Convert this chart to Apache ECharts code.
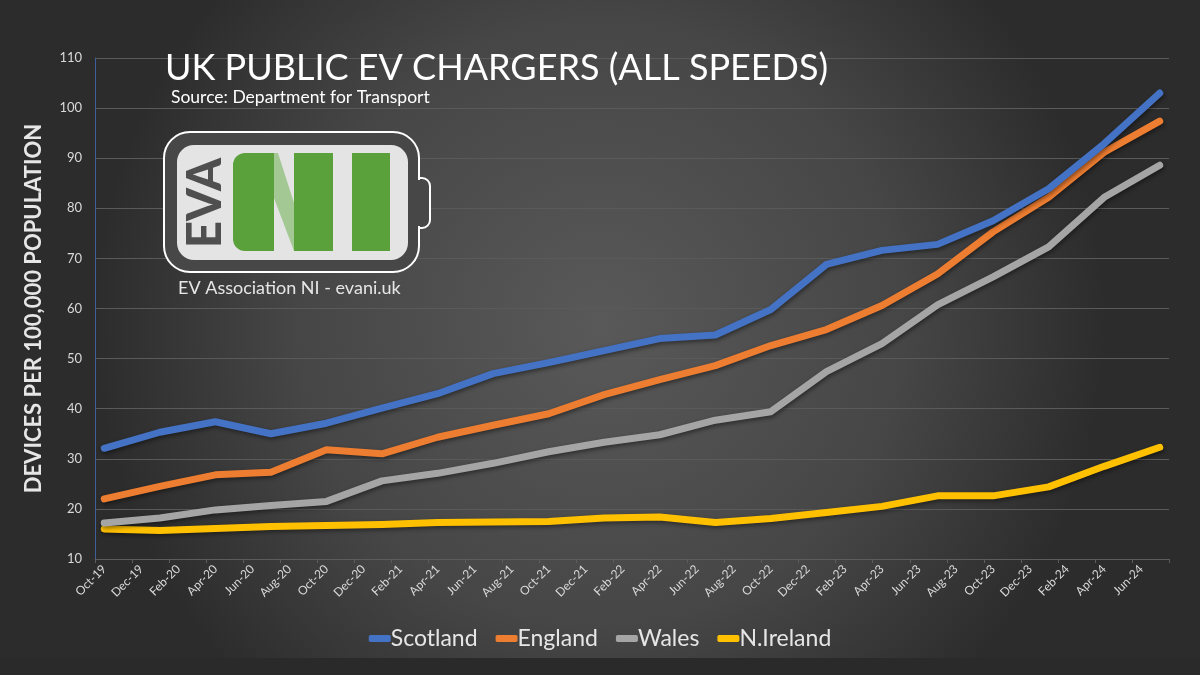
<!DOCTYPE html>
<html>
<head>
<meta charset="utf-8">
<script src="https://cdn.jsdelivr.net/npm/echarts@6/dist/echarts.min.js"></script>
<style>
  html, body { margin: 0; padding: 0; background: #2b2b2b; }
  #chart { width: 1200px; height: 675px; }
</style>
</head>
<body>
<div id="chart"></div>
<script>
// month axis, labels shown every other month
const months = [
  "Oct-19", "Nov-19", "Dec-19",
  "Jan-20", "Feb-20", "Mar-20", "Apr-20", "May-20", "Jun-20", "Jul-20", "Aug-20", "Sep-20", "Oct-20", "Nov-20", "Dec-20",
  "Jan-21", "Feb-21", "Mar-21", "Apr-21", "May-21", "Jun-21", "Jul-21", "Aug-21", "Sep-21", "Oct-21", "Nov-21", "Dec-21",
  "Jan-22", "Feb-22", "Mar-22", "Apr-22", "May-22", "Jun-22", "Jul-22", "Aug-22", "Sep-22", "Oct-22", "Nov-22", "Dec-22",
  "Jan-23", "Feb-23", "Mar-23", "Apr-23", "May-23", "Jun-23", "Jul-23", "Aug-23", "Sep-23", "Oct-23", "Nov-23", "Dec-23",
  "Jan-24", "Feb-24", "Mar-24", "Apr-24", "May-24", "Jun-24", "Jul-24"
];

// quarterly readings
const quarters = [
  "Oct-19", "Jan-20", "Apr-20", "Jul-20", "Oct-20", "Jan-21", "Apr-21", "Jul-21", "Oct-21", "Jan-22",
  "Apr-22", "Jul-22", "Oct-22", "Jan-23", "Apr-23", "Jul-23", "Oct-23", "Jan-24", "Apr-24", "Jul-24"
];

const scotland = [32.1, 35.3, 37.4, 35.0, 37.1, 40.1, 43.0, 47.0, 49.2, 51.6, 54.0, 54.7, 59.8, 68.8, 71.6, 72.8, 77.5, 83.9, 92.9, 103.0];
const england  = [22.0, 24.5, 26.8, 27.3, 31.8, 31.0, 34.3, 36.7, 39.0, 42.8, 45.8, 48.6, 52.6, 55.8, 60.6, 66.9, 75.3, 82.2, 91.2, 97.4];
const wales    = [17.2, 18.2, 19.8, 20.7, 21.5, 25.6, 27.1, 29.1, 31.4, 33.3, 34.8, 37.7, 39.4, 47.4, 53.0, 60.7, 66.3, 72.3, 82.2, 88.6];
const nireland = [16.0, 15.7, 16.1, 16.5, 16.7, 16.9, 17.3, 17.4, 17.5, 18.2, 18.4, 17.3, 18.1, 19.3, 20.5, 22.6, 22.6, 24.4, 28.5, 32.3];

const seriesNames = ["Scotland", "England", "Wales", "N.Ireland"];
const seriesColors = ["#4472C4", "#ED7D31", "#A5A5A5", "#FFC000"];
const seriesValues = [scotland, england, wales, nireland];

const FONT = "Lato, 'Open Sans', sans-serif";

const chart = echarts.init(document.getElementById("chart"));

const option = {
  backgroundColor: {
    type: "radial", x: 0.5, y: 0.48, r: 0.75,
    colorStops: [
      { offset: 0, color: "#595959" },
      { offset: 0.6, color: "#464646" },
      { offset: 1, color: "#2c2c2c" }
    ]
  },
  textStyle: { fontFamily: FONT },
  title: [
    {
      text: "UK PUBLIC EV CHARGERS (ALL SPEEDS)",
      left: 160, top: 45,
      textStyle: { color: "#ffffff", fontSize: 36, fontWeight: "normal", fontFamily: FONT }
    },
    {
      text: "Source: Department for Transport",
      left: 166, top: 83,
      textStyle: { color: "#ffffff", fontSize: 17.5, fontWeight: "normal", fontFamily: FONT }
    }
  ],
  legend: {
    bottom: 20,
    left: "center",
    icon: "roundRect",
    itemWidth: 22,
    itemHeight: 7,
    itemGap: 18,
    textStyle: { color: "#e6e6e6", fontSize: 23, fontFamily: FONT, padding: [0, 0, 0, -5] },
    data: seriesNames
  },
  grid: { left: 95, right: 31, top: 58, bottom: 116 },
  xAxis: {
    type: "category",
    data: months,
    boundaryGap: true,
    axisLine: { lineStyle: { color: "#5c5c5c", width: 1 } },
    axisTick: { show: true, interval: 1, lineStyle: { color: "#5c5c5c" }, length: 4 },
    axisLabel: { interval: 1, rotate: 45, color: "#d9d9d9", fontSize: 12, margin: 8, fontFamily: FONT },
    splitLine: { show: false }
  },
  yAxis: {
    type: "value",
    min: 10, max: 110, interval: 10,
    name: "DEVICES PER 100,000 POPULATION",
    nameLocation: "middle",
    nameGap: 50,
    nameTextStyle: { color: "#e6e6e6", fontSize: 22, fontWeight: "bold", fontFamily: FONT },
    axisLine: { show: true, lineStyle: { color: "#3f5f9a", width: 1 } },
    axisTick: { show: false },
    axisLabel: { color: "#d9d9d9", fontSize: 13, margin: 13, fontFamily: FONT },
    splitLine: { lineStyle: { color: "#5a5a5a", width: 1 } }
  },
  series: seriesNames.map((name, i) => ({
    name: name,
    type: "line",
    data: quarters.map((q, j) => [q, seriesValues[i][j]]),
    showSymbol: false,
    symbol: "none",
    smooth: false,
    color: seriesColors[i],
    lineStyle: {
      width: 7,
      color: seriesColors[i],
      cap: "round",
      join: "round",
      shadowColor: "rgba(0,0,0,0.45)",
      shadowBlur: 4,
      shadowOffsetX: 1,
      shadowOffsetY: 2
    },
    z: 10 - i
  })),
  graphic: [
    // dark strip at the very bottom
    { type: "rect", left: 0, top: 658, shape: { width: 1200, height: 17 }, style: { fill: "#2a2a2a" }, z: -1 },
    // battery logo
    { type: "rect", shape: { x: 417, y: 178, width: 13, height: 50, r: [0, 8, 8, 0] },
      style: { fill: "#474747", stroke: "#ffffff", lineWidth: 2 }, z: 100 },
    { type: "rect", shape: { x: 164, y: 132, width: 255, height: 140, r: 26 },
      style: { fill: "#474747", stroke: "#ffffff", lineWidth: 2 }, z: 101 },
    { type: "rect", shape: { x: 415, y: 180, width: 6, height: 46 },
      style: { fill: "#474747" }, z: 101 },
    { type: "rect", shape: { x: 177, y: 145, width: 231, height: 115, r: 17 },
      style: { fill: "#e4e4e4" }, z: 102 },
    { type: "text", x: 206, y: 203, rotation: Math.PI / 2,
      style: { text: "EVA", fill: "#4f4f4f", font: "900 47px Lato, sans-serif", align: "center", verticalAlign: "middle" }, z: 103 },
    { type: "rect", shape: { x: 233, y: 153, width: 41, height: 98, r: [12, 0, 0, 12] },
      style: { fill: "#5aa13b" }, z: 103 },
    { type: "polygon", shape: { points: [[274, 153], [278, 153], [294, 203], [294, 251], [274, 198]] },
      style: { fill: "#a3c893" }, z: 103 },
    { type: "rect", shape: { x: 294, y: 153, width: 39, height: 98 },
      style: { fill: "#5aa13b" }, z: 103 },
    { type: "rect", shape: { x: 352, y: 153, width: 38, height: 98 },
      style: { fill: "#5aa13b" }, z: 103 },
    { type: "text", x: 178, y: 288,
      style: { text: "EV Association NI - evani.uk", fill: "#e6e6e6", font: "18px Lato, sans-serif", verticalAlign: "middle" }, z: 103 }
  ]
};

chart.setOption(option);
</script>
</body>
</html>
